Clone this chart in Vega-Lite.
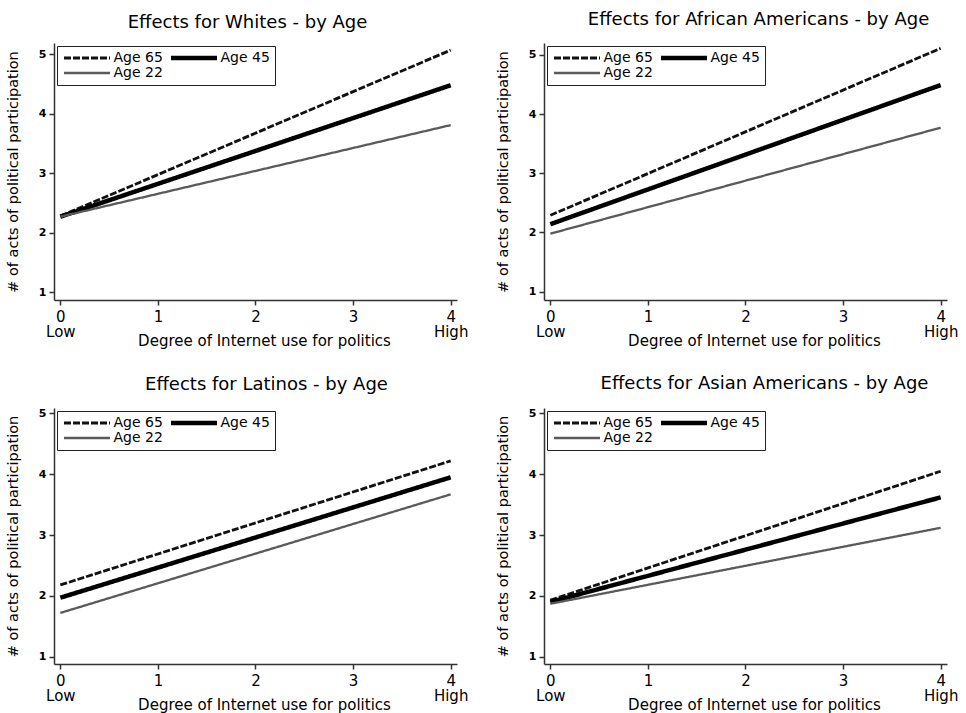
{
  "$schema": "https://vega.github.io/schema/vega-lite/v6.json",
  "padding": {"left": 5, "top": 10, "right": 5, "bottom": 2},
  "background": "white",
  "data": {"values": [
    {"group": "Whites", "age": "Age 65", "use": 0, "acts": 2.28},
    {"group": "Whites", "age": "Age 65", "use": 4, "acts": 5.07},
    {"group": "Whites", "age": "Age 45", "use": 0, "acts": 2.27},
    {"group": "Whites", "age": "Age 45", "use": 4, "acts": 4.48},
    {"group": "Whites", "age": "Age 22", "use": 0, "acts": 2.27},
    {"group": "Whites", "age": "Age 22", "use": 4, "acts": 3.81},
    {"group": "African Americans", "age": "Age 65", "use": 0, "acts": 2.29},
    {"group": "African Americans", "age": "Age 65", "use": 4, "acts": 5.11},
    {"group": "African Americans", "age": "Age 45", "use": 0, "acts": 2.14},
    {"group": "African Americans", "age": "Age 45", "use": 4, "acts": 4.49},
    {"group": "African Americans", "age": "Age 22", "use": 0, "acts": 1.98},
    {"group": "African Americans", "age": "Age 22", "use": 4, "acts": 3.77},
    {"group": "Latinos", "age": "Age 65", "use": 0, "acts": 2.18},
    {"group": "Latinos", "age": "Age 65", "use": 4, "acts": 4.22},
    {"group": "Latinos", "age": "Age 45", "use": 0, "acts": 1.97},
    {"group": "Latinos", "age": "Age 45", "use": 4, "acts": 3.95},
    {"group": "Latinos", "age": "Age 22", "use": 0, "acts": 1.72},
    {"group": "Latinos", "age": "Age 22", "use": 4, "acts": 3.67},
    {"group": "Asian Americans", "age": "Age 65", "use": 0, "acts": 1.93},
    {"group": "Asian Americans", "age": "Age 65", "use": 4, "acts": 4.05},
    {"group": "Asian Americans", "age": "Age 45", "use": 0, "acts": 1.90},
    {"group": "Asian Americans", "age": "Age 45", "use": 4, "acts": 3.62},
    {"group": "Asian Americans", "age": "Age 22", "use": 0, "acts": 1.87},
    {"group": "Asian Americans", "age": "Age 22", "use": 4, "acts": 3.12}
  ]},
  "columns": 2,
  "bounds": "flush",
  "spacing": {"row": 108, "column": 87},
  "resolve": {
    "scale": {"color": "independent", "strokeDash": "independent", "strokeWidth": "independent"},
    "legend": {"color": "independent", "strokeDash": "independent", "strokeWidth": "independent"}
  },
  "concat": [
    {
      "width": 403, "height": 257,
      "title": {"text": "Effects for Whites - by Age", "dx": -8, "dy": 1},
      "transform": [{"filter": "datum.group == 'Whites'"}],
      "mark": {"type": "line", "strokeCap": "butt"},
      "encoding": {
        "x": {"field": "use", "type": "quantitative", "scale": {"domain": [-0.065, 4.065], "nice": false, "zero": false},
              "axis": {"values": [0, 1, 2, 3, 4], "title": "Degree of Internet use for politics", "labelExpr": "datum.value == 0 ? ['0', 'Low      '] : datum.value == 4 ? ['4', ' High'] : datum.label", "labelFontSize": 15, "labelLineHeight": 15, "labelPadding": 4, "titleFontSize": 15, "titleX": 210, "titleY": 33, "titleBaseline": "top", "titleAlign": "center"}},
        "y": {"field": "acts", "type": "quantitative", "scale": {"domain": [0.87, 5.19], "nice": false, "zero": false},
              "axis": {"values": [1, 2, 3, 4, 5], "title": "# of acts of political participation", "labelFontSize": 11, "labelFontWeight": "bold", "labelPadding": 3, "titleFontSize": 14.5, "titlePadding": 18}},
        "color": {"field": "age", "type": "nominal", "scale": {"domain": ["Age 65", "Age 45", "Age 22"], "range": ["#111111", "#000000", "#5a5a5a"]}, "legend": {"title": null}},
        "strokeDash": {"field": "age", "type": "nominal", "scale": {"domain": ["Age 65", "Age 45", "Age 22"], "range": [[7, 2], [1, 0], [1, 0]]}, "legend": {"title": null}},
        "strokeWidth": {"field": "age", "type": "nominal", "scale": {"type": "ordinal", "domain": ["Age 65", "Age 45", "Age 22"], "range": [2.8, 4.5, 2.3]}, "legend": {"title": null}}
      }
    },
    {
      "width": 403, "height": 257,
      "title": {"text": "Effects for African Americans - by Age", "dx": 13, "dy": -2},
      "transform": [{"filter": "datum.group == 'African Americans'"}],
      "mark": {"type": "line", "strokeCap": "butt"},
      "encoding": {
        "x": {"field": "use", "type": "quantitative", "scale": {"domain": [-0.065, 4.065], "nice": false, "zero": false},
              "axis": {"values": [0, 1, 2, 3, 4], "title": "Degree of Internet use for politics", "labelExpr": "datum.value == 0 ? ['0', 'Low      '] : datum.value == 4 ? ['4', ' High'] : datum.label", "labelFontSize": 15, "labelLineHeight": 15, "labelPadding": 4, "titleFontSize": 15, "titleX": 210, "titleY": 33, "titleBaseline": "top", "titleAlign": "center"}},
        "y": {"field": "acts", "type": "quantitative", "scale": {"domain": [0.86, 5.2], "nice": false, "zero": false},
              "axis": {"values": [1, 2, 3, 4, 5], "title": "# of acts of political participation", "labelFontSize": 11, "labelFontWeight": "bold", "labelPadding": 3, "titleFontSize": 14.5, "titlePadding": 18}},
        "color": {"field": "age", "type": "nominal", "scale": {"domain": ["Age 65", "Age 45", "Age 22"], "range": ["#111111", "#000000", "#5a5a5a"]}, "legend": {"title": null}},
        "strokeDash": {"field": "age", "type": "nominal", "scale": {"domain": ["Age 65", "Age 45", "Age 22"], "range": [[7, 2], [1, 0], [1, 0]]}, "legend": {"title": null}},
        "strokeWidth": {"field": "age", "type": "nominal", "scale": {"type": "ordinal", "domain": ["Age 65", "Age 45", "Age 22"], "range": [2.8, 4.5, 2.3]}, "legend": {"title": null}}
      }
    },
    {
      "width": 403, "height": 256,
      "title": {"text": "Effects for Latinos - by Age", "dx": 11, "dy": -1},
      "transform": [{"filter": "datum.group == 'Latinos'"}],
      "mark": {"type": "line", "strokeCap": "butt"},
      "encoding": {
        "x": {"field": "use", "type": "quantitative", "scale": {"domain": [-0.065, 4.065], "nice": false, "zero": false},
              "axis": {"values": [0, 1, 2, 3, 4], "title": "Degree of Internet use for politics", "labelExpr": "datum.value == 0 ? ['0', 'Low      '] : datum.value == 4 ? ['4', ' High'] : datum.label", "labelFontSize": 15, "labelLineHeight": 15, "labelPadding": 4, "titleFontSize": 15, "titleX": 210, "titleY": 33, "titleBaseline": "top", "titleAlign": "center"}},
        "y": {"field": "acts", "type": "quantitative", "scale": {"domain": [0.88, 5.09], "nice": false, "zero": false},
              "axis": {"values": [1, 2, 3, 4, 5], "title": "# of acts of political participation", "labelFontSize": 11, "labelFontWeight": "bold", "labelPadding": 3, "titleFontSize": 14.5, "titlePadding": 18}},
        "color": {"field": "age", "type": "nominal", "scale": {"domain": ["Age 65", "Age 45", "Age 22"], "range": ["#111111", "#000000", "#5a5a5a"]}, "legend": {"title": null}},
        "strokeDash": {"field": "age", "type": "nominal", "scale": {"domain": ["Age 65", "Age 45", "Age 22"], "range": [[7, 2], [1, 0], [1, 0]]}, "legend": {"title": null}},
        "strokeWidth": {"field": "age", "type": "nominal", "scale": {"type": "ordinal", "domain": ["Age 65", "Age 45", "Age 22"], "range": [2.8, 4.5, 2.3]}, "legend": {"title": null}}
      }
    },
    {
      "width": 403, "height": 256,
      "title": {"text": "Effects for Asian Americans - by Age", "dx": 19, "dy": -2},
      "transform": [{"filter": "datum.group == 'Asian Americans'"}],
      "mark": {"type": "line", "strokeCap": "butt"},
      "encoding": {
        "x": {"field": "use", "type": "quantitative", "scale": {"domain": [-0.065, 4.065], "nice": false, "zero": false},
              "axis": {"values": [0, 1, 2, 3, 4], "title": "Degree of Internet use for politics", "labelExpr": "datum.value == 0 ? ['0', 'Low      '] : datum.value == 4 ? ['4', ' High'] : datum.label", "labelFontSize": 15, "labelLineHeight": 15, "labelPadding": 4, "titleFontSize": 15, "titleX": 210, "titleY": 33, "titleBaseline": "top", "titleAlign": "center"}},
        "y": {"field": "acts", "type": "quantitative", "scale": {"domain": [0.88, 5.09], "nice": false, "zero": false},
              "axis": {"values": [1, 2, 3, 4, 5], "title": "# of acts of political participation", "labelFontSize": 11, "labelFontWeight": "bold", "labelPadding": 3, "titleFontSize": 14.5, "titlePadding": 18}},
        "color": {"field": "age", "type": "nominal", "scale": {"domain": ["Age 65", "Age 45", "Age 22"], "range": ["#111111", "#000000", "#5a5a5a"]}, "legend": {"title": null}},
        "strokeDash": {"field": "age", "type": "nominal", "scale": {"domain": ["Age 65", "Age 45", "Age 22"], "range": [[7, 2], [1, 0], [1, 0]]}, "legend": {"title": null}},
        "strokeWidth": {"field": "age", "type": "nominal", "scale": {"type": "ordinal", "domain": ["Age 65", "Age 45", "Age 22"], "range": [2.8, 4.5, 2.3]}, "legend": {"title": null}}
      }
    }
  ],
  "config": {
    "font": "DejaVu Sans",
    "view": {"stroke": null},
    "title": {"fontSize": 18, "fontWeight": "normal", "color": "#000000", "font": "DejaVu Sans", "frame": "group", "anchor": "middle", "baseline": "alphabetic", "offset": 12},
    "axis": {"grid": false, "domainColor": "#333333", "domainWidth": 1.5, "tickColor": "#333333", "tickWidth": 1.5, "tickSize": 5, "labelColor": "#000000", "titleColor": "#000000", "labelFont": "DejaVu Sans", "titleFont": "DejaVu Sans", "titleFontWeight": "normal", "labelFlush": false, "labelOverlap": false, "labelBound": false},
    "legend": {"orient": "top-left", "offset": 3, "columns": 2, "direction": "horizontal", "symbolType": "stroke", "symbolSize": 2116, "clipHeight": 15, "labelFontSize": 14, "labelFont": "DejaVu Sans", "labelColor": "#000000", "labelOffset": 1, "columnPadding": 5, "rowPadding": 0, "padding": 4.5, "strokeColor": "#222222", "fillColor": "#ffffff", "cornerRadius": 0}
  }
}
